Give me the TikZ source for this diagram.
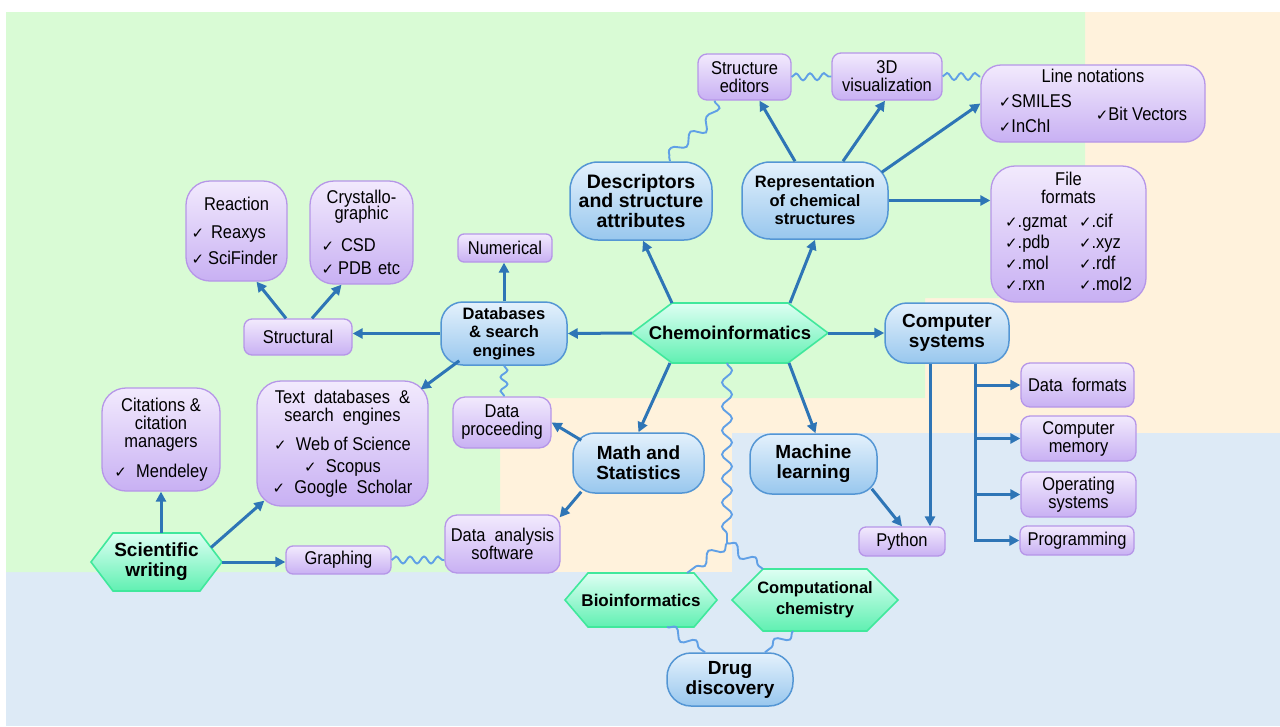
\documentclass[tikz,border=0pt]{standalone}
\usepackage{fontspec}
\setmainfont{Liberation Sans}
\newfontfamily\nfont[FakeStretch=0.89]{Liberation Sans}
\newfontfamily\symf{DejaVu Sans}
\usetikzlibrary{arrows.meta,decorations.pathmorphing,calc}
\pgfdeclarelayer{bg}
\pgfsetlayers{bg,main}
\definecolor{bggreen}{RGB}{217,251,213}
\definecolor{bgpeach}{RGB}{255,242,220}
\definecolor{bgblue}{RGB}{221,234,246}
\definecolor{arrc}{RGB}{46,117,182}
\definecolor{wavec}{RGB}{96,160,230}
\definecolor{bbord}{RGB}{84,150,212}
\definecolor{btop}{RGB}{228,241,252}
\definecolor{bbot}{RGB}{152,199,238}
\definecolor{pbord}{RGB}{182,150,232}
\definecolor{ptop}{RGB}{242,234,253}
\definecolor{pbot}{RGB}{200,176,243}
\definecolor{gbord}{RGB}{64,232,156}
\definecolor{gtop}{RGB}{222,255,243}
\definecolor{gbot}{RGB}{96,240,178}
\newcommand\chk{{\symf\fontsize{15}{15}\selectfont ✓}}
\newcommand\ctr[1]{\hfill#1\hfill\null}
\newcommand\hexshape[2]{\path[hexfill] (#1.west) -- ([xshift=#2]#1.north west) -- ([xshift=-#2]#1.north east) -- (#1.east) -- ([xshift=-#2]#1.south east) -- ([xshift=#2]#1.south west) -- cycle;}
\tikzset{
 bnode/.style={draw=bbord, line width=1.5pt, rounded corners=22pt, top color=btop, bottom color=bbot, align=center, inner sep=0pt, font=\bfseries\fontsize{19}{20}\selectfont},
 pnode/.style={draw=pbord, line width=1.3pt, rounded corners=9pt, top color=ptop, bottom color=pbot, align=center, inner sep=0pt, font=\nfont\fontsize{18.5}{18}\selectfont},
 hexn/.style={inner sep=0pt, outer sep=0pt, align=center, font=\bfseries\fontsize{19}{20}\selectfont},
 hexfill/.style={draw=gbord, line width=1.6pt, top color=gtop, bottom color=gbot, line join=miter},
 arr/.style={draw=arrc, line width=3pt, -{Triangle[length=10pt,width=10pt]}},
 wave/.style={draw=wavec, line width=1.9pt, decorate, decoration={snake, amplitude=3.5pt, segment length=14pt}},
 bigwave/.style={wave, decoration={snake, amplitude=5pt, segment length=24pt}},
}
\begin{document}
\begin{tikzpicture}[x=1pt,y=-1pt]
\useasboundingbox (0,0) rectangle (1280,726);
\begin{pgfonlayer}{bg}
\fill[white] (0,0) rectangle (1280,726);
\fill[bgblue] (6,12) rectangle (1280,726);
\fill[bgpeach] (500,12) rectangle (1280,433);
\fill[bgpeach] (500,433) rectangle (732,572);
\fill[bggreen] (6,12) -- (1085,12) -- (1085,298) -- (925,298) -- (925,398) -- (500,398) -- (500,572) -- (6,572) -- cycle;
\end{pgfonlayer}

% blue nodes
\node[bnode, minimum width=142pt, minimum height=78pt, rounded corners=28pt, font=\bfseries\fontsize{19.5}{19.5}\selectfont] (desc) at (641,201) {Descriptors\\and structure\\attributes};
\node[bnode, minimum width=146pt, minimum height=77pt, rounded corners=28pt, font=\bfseries\fontsize{16.5}{18.5}\selectfont] (rep) at (815,200.5) {Representation\\of chemical\\structures};
\node[bnode, minimum width=126pt, minimum height=63pt, font=\bfseries\fontsize{16.5}{18.5}\selectfont] (db) at (504,333.5) {Databases\\\& search\\engines};
\node[bnode, minimum width=124pt, minimum height=60pt, font=\bfseries\fontsize{19}{19.5}\selectfont] (cs) at (947,333) {Computer\\systems};
\node[bnode, minimum width=131pt, minimum height=60pt] (math) at (638.5,463) {Math and\\Statistics};
\node[bnode, minimum width=127pt, minimum height=60pt] (ml) at (813.5,464) {Machine\\learning};
\node[bnode, minimum width=126pt, minimum height=53pt, rounded corners=24pt] (drug) at (730,679.5) {Drug\\discovery};

% hexagon nodes
\node[hexn, minimum width=196pt, minimum height=60pt, font=\bfseries\fontsize{18.5}{20}\selectfont] (chemo) at (730,333) {Chemoinformatics};
\node[hexn, minimum width=131pt, minimum height=58pt] (sci) at (156.5,562) {Scientific\\writing};
\node[hexn, minimum width=152pt, minimum height=54pt, font=\bfseries\fontsize{17}{20}\selectfont] (bio) at (641,600) {Bioinformatics};
\node[hexn, minimum width=166pt, minimum height=62pt, font=\bfseries\fontsize{16.5}{21}\selectfont] (comp) at (815,600) {Computational\\chemistry};
\begin{pgfonlayer}{bg}
\hexshape{chemo}{40pt}
\hexshape{sci}{22pt}
\hexshape{bio}{23pt}
\hexshape{comp}{31pt}
\end{pgfonlayer}

% purple nodes
\node[pnode, minimum width=93pt, minimum height=46pt] (se) at (744.5,77) {Structure\\editors};
\node[pnode, minimum width=110pt, minimum height=47pt] (viz) at (887,76.5) {3D\\visualization};
\node[pnode, rounded corners=20pt, minimum width=224pt, minimum height=77pt] (ln) at (1093,103.5) {Line notations\\[7pt]\begin{tabular}[t]{@{}l@{\hspace{24pt}}l@{}}\chk SMILES & \\[-6.5pt] & \chk Bit Vectors\\[-6.5pt] \chk InChI & \end{tabular}};
\node[pnode, rounded corners=24pt, minimum width=155pt, minimum height=136pt] (ff) at (1068.5,234) {File\\formats\\[6pt]\begin{tabular}[t]{@{}l@{\hspace{12pt}}l@{}}\chk.gzmat&\chk.cif\\[2.5pt]\chk.pdb&\chk.xyz\\[2.5pt]\chk.mol&\chk.rdf\\[2.5pt]\chk.rxn&\chk.mol2\end{tabular}};
\node[pnode, rounded corners=24pt, minimum width=101pt, minimum height=100pt, text width=90pt, align=left] (re) at (236.5,231) {\ctr{Reaction}\\[10pt]\chk\hspace{7pt}Reaxys\\[8pt]\chk\hspace{4pt}SciFinder};
\node[pnode, rounded corners=24pt, minimum width=103pt, minimum height=103pt, text width=80pt, align=left] (cr) at (361.5,232.5) {\ctr{Crystallo-}\\[-2pt]\ctr{graphic}\\[14pt]\chk\hspace{7pt}CSD\\[5pt]\chk\hspace{4pt}PDB etc};
\node[pnode, minimum width=94pt, minimum height=28pt, rounded corners=6pt] (num) at (505,248) {Numerical};
\node[pnode, minimum width=108pt, minimum height=36pt, rounded corners=8pt] (st) at (298,337) {Structural};
\node[pnode, rounded corners=24pt, minimum width=171pt, minimum height=125pt] (tdb) at (342.5,443.5) {Text\ \ databases\ \ \&\\search\ \ engines\\[11pt]\chk\ \ Web of Science\\[4pt]\chk\ \ Scopus\\[3pt]\chk\ \ Google\ \ Scholar};
\node[pnode, rounded corners=24pt, minimum width=118pt, minimum height=103pt] (cit) at (161,439.5) {Citations \&\\citation\\managers\\[12pt]\chk\ \ Mendeley};
\node[pnode, minimum width=98pt, minimum height=51pt, rounded corners=12pt] (dp) at (502,422.5) {Data\\proceeding};
\node[pnode, minimum width=115pt, minimum height=58pt, rounded corners=12pt] (da) at (502.5,544) {Data\ \ analysis\\software};
\node[pnode, minimum width=105pt, minimum height=28pt, rounded corners=7pt] (gr) at (338.5,560) {Graphing};
\node[pnode, minimum width=86pt, minimum height=29pt, rounded corners=7pt] (py) at (902,541.5) {Python};
\node[pnode, minimum width=113pt, minimum height=44pt] (df) at (1077.5,385) {Data\ \ formats};
\node[pnode, minimum width=115pt, minimum height=45pt] (cm) at (1078.5,438.5) {Computer\\memory};
\node[pnode, minimum width=115pt, minimum height=45pt] (os) at (1078.5,494.5) {Operating\\systems};
\node[pnode, minimum width=114pt, minimum height=29pt, rounded corners=7pt] (prog) at (1077,540.5) {Programming};

% arrows from Chemoinformatics
\draw[arr] ([xshift=-58pt]chemo.north) -- ([xshift=2pt]desc.south);
\draw[arr] ([xshift=60pt]chemo.north) -- (rep.south);
\draw[arr] (chemo.west) -- (db.east);
\draw[arr] (chemo.east) -- (cs.west);
\draw[arr] ([xshift=-60pt]chemo.south) -- (math.north);
\draw[arr] ([xshift=59pt]chemo.south) -- ([xshift=2pt]ml.north);
% representation
\draw[arr] ([xshift=-20pt]rep.north) -- ([xshift=15pt]se.south);
\draw[arr] ([xshift=28pt]rep.north) -- ([xshift=-2pt]viz.south);
\draw[arr] ([xshift=-7pt,yshift=-11pt]rep.north east) -- (ln.west);
\draw[arr] (rep.east) -- (rep.east -| ff.west);
% databases
\draw[arr] (db.north) -- (db.north |- num.south);
\draw[arr] (db.west) -- (db.west -| st.east);
\draw[arr] ([xshift=19pt,yshift=5pt]db.south west) -- ([xshift=-8pt,yshift=-9pt]tdb.north east);
\draw[arr] ([xshift=-12pt]st.north) -- ([xshift=20pt]re.south);
\draw[arr] ([xshift=14pt]st.north) -- ([xshift=-20pt]cr.south);
% math, ML
\draw[arr] ([xshift=9pt,yshift=-8pt]math.north west) -- (dp.east);
\draw[arr] ([xshift=9pt,yshift=2pt]math.south west) -- ([xshift=-1pt,yshift=-3pt]da.north east);
\draw[arr] ([xshift=-6pt,yshift=6pt]ml.south east) -- (py.north);
% computer systems
\coordinate (px) at (930,0);
\coordinate (bx) at (975,0);
\draw[arr] (cs.south -| px) -- (py.north -| px);
\draw[arr] (cs.south -| bx) -- (prog.west -| bx) -- (prog.west);
\foreach \n in {df,cm,os} \draw[arr] (\n.west -| bx) -- (\n.west);
% scientific writing
\draw[arr] (sci.north -| cit.south) -- (cit.south);
\draw[arr] ($(sci.east)!0.5!([xshift=-22pt]sci.north east)$) -- ([xshift=8pt,yshift=6pt]tdb.south west);
\draw[arr] (sci.east) -- (sci.east -| gr.west);

% wavy links
\draw[wave] (se.east) -- (viz.west);
\draw[wave] (viz.east) -- (viz.east -| ln.west);
\draw[bigwave] ([xshift=-30pt]se.south) to[out=-90,in=90] ([xshift=29pt]desc.north);
\draw[wave] (db.south) -- (db.south |- dp.north);
\draw[wave] (gr.east) -- (gr.east -| da.west);
\coordinate (split) at (727,543);
\draw[bigwave] ([xshift=-3pt]chemo.south) -- (split);
\draw[bigwave] (split) -- ([xshift=46pt]bio.north);
\draw[bigwave] (split) -- ([xshift=-52pt]comp.north);
\draw[bigwave] ([xshift=26pt]bio.south) -- ([xshift=-25pt]drug.north);
\draw[bigwave] ([xshift=-22pt]comp.south) -- ([xshift=35pt]drug.north);
\end{tikzpicture}
\end{document}
